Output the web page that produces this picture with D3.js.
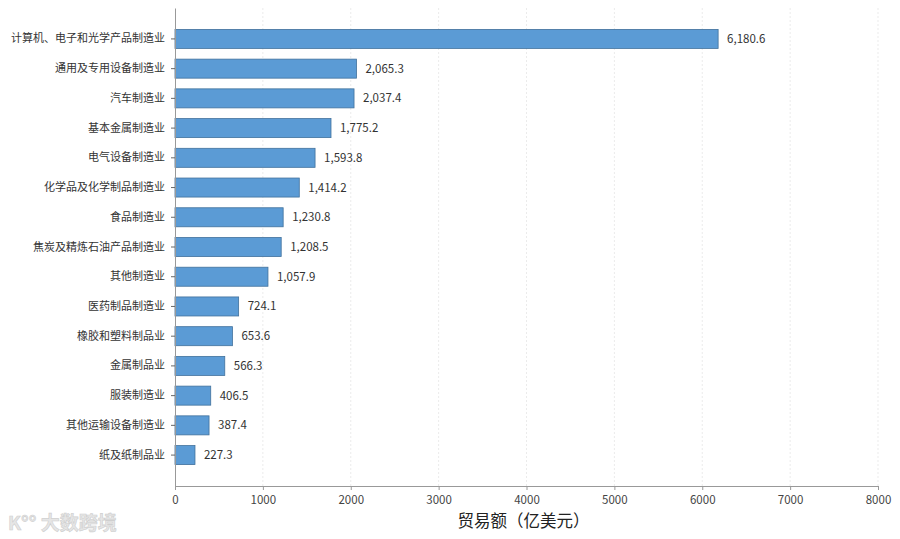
<!DOCTYPE html>
<html>
<head>
<meta charset="utf-8">
<script src="https://cdn.jsdelivr.net/npm/d3@7"></script>
<style>
  html, body { margin: 0; padding: 0; background: #fff; }
  svg { display: block; font-family: "Noto Sans CJK SC", "Noto Sans", sans-serif; }
</style>
</head>
<body>
<svg id="chart"></svg>
<script>
"use strict";

var industries = ["计算机、电子和光学产品制造业", "通用及专用设备制造业", "汽车制造业", "基本金属制造业",
  "电气设备制造业", "化学品及化学制品制造业", "食品制造业", "焦炭及精炼石油产品制造业", "其他制造业",
  "医药制品制造业", "橡胶和塑料制品业", "金属制品业", "服装制造业", "其他运输设备制造业", "纸及纸制品业"];
var tradeValues = [6180.6, 2065.3, 2037.4, 1775.2, 1593.8, 1414.2, 1230.8, 1208.5, 1057.9,
  724.1, 653.6, 566.3, 406.5, 387.4, 227.3];
var xTicks = [0, 1000, 2000, 3000, 4000, 5000, 6000, 7000, 8000];
var xTitle = "贸易额（亿美元）";

var Draw = (function() {
  var width = 900, height = 539;
  var margin = {top: 8, right: 22, bottom: 53, left: 175};

  var svg = d3.select("#chart")
      .attr("width", width)
      .attr("height", height);

  var x = d3.scaleLinear()
      .domain([0, 8000])
      .range([margin.left, width - margin.right]);

  var y = d3.scaleBand()
      .domain(industries)
      .range([margin.top, height - margin.bottom])
      .paddingInner(0.36)
      .paddingOuter(0.72);

  // grid lines
  svg.append("g")
    .selectAll("line")
    .data(xTicks.slice(1))
    .join("line")
      .attr("x1", d => x(d))
      .attr("x2", d => x(d))
      .attr("y1", margin.top)
      .attr("y2", height - margin.bottom)
      .attr("stroke", "#ebebeb")
      .attr("stroke-dasharray", "2,2")
      .attr("stroke-width", 1);

  // bars
  svg.append("g")
    .selectAll("rect")
    .data(industries)
    .join("rect")
      .attr("x", x(0))
      .attr("y", d => y(d))
      .attr("width", (d, i) => x(tradeValues[i]) - x(0))
      .attr("height", y.bandwidth())
      .attr("fill", "#5b9bd5")
      .attr("stroke", "#41719c")
      .attr("stroke-width", 0.8);

  // value labels
  svg.append("g")
    .selectAll("text")
    .data(industries)
    .join("text")
      .attr("x", (d, i) => x(tradeValues[i]) + 9)
      .attr("y", d => y(d) + y.bandwidth() / 2)
      .attr("dy", "0.35em")
      .attr("font-size", 11.5)
      .attr("fill", "#333")
      .text((d, i) => d3.format(",.1f")(tradeValues[i]));

  // x axis
  var xAxis = svg.append("g")
      .attr("transform", `translate(0,${height - margin.bottom})`)
      .call(d3.axisBottom(x).tickValues(xTicks).tickSize(4).tickPadding(6).tickFormat(d3.format("d")));
  xAxis.select(".domain").attr("stroke", "#999");
  xAxis.selectAll(".tick line").attr("stroke", "#999");
  xAxis.selectAll("text").attr("font-size", 11.5).attr("fill", "#444")
      .attr("font-family", "'Noto Sans CJK SC', sans-serif");

  // y axis
  var yAxis = svg.append("g")
      .attr("transform", `translate(${margin.left},0)`)
      .call(d3.axisLeft(y).tickSize(4).tickPadding(6).tickSizeOuter(0));
  yAxis.select(".domain").attr("stroke", "#999");
  yAxis.selectAll(".tick line").attr("stroke", "#666");
  yAxis.selectAll("text").attr("font-size", 11).attr("fill", "#333")
      .attr("font-family", "'Noto Sans CJK SC', sans-serif");

  // axis title
  svg.append("text")
      .attr("x", (margin.left + width - margin.right) / 2 - 3)
      .attr("y", height - 12)
      .attr("text-anchor", "middle")
      .attr("font-size", 16.5)
      .attr("fill", "#222")
      .text(xTitle);

  // watermark
  var wm = svg.append("g").attr("transform", "translate(8,530)");
  wm.append("text")
      .attr("x", 0)
      .attr("font-size", 19)
      .attr("font-weight", "bold")
      .attr("fill", "#e6e6e6")
      .attr("stroke", "#cfcfcf")
      .attr("stroke-width", 0.6)
      .text("K°° 大数跨境");
});

Draw();
</script>
</body>
</html>
